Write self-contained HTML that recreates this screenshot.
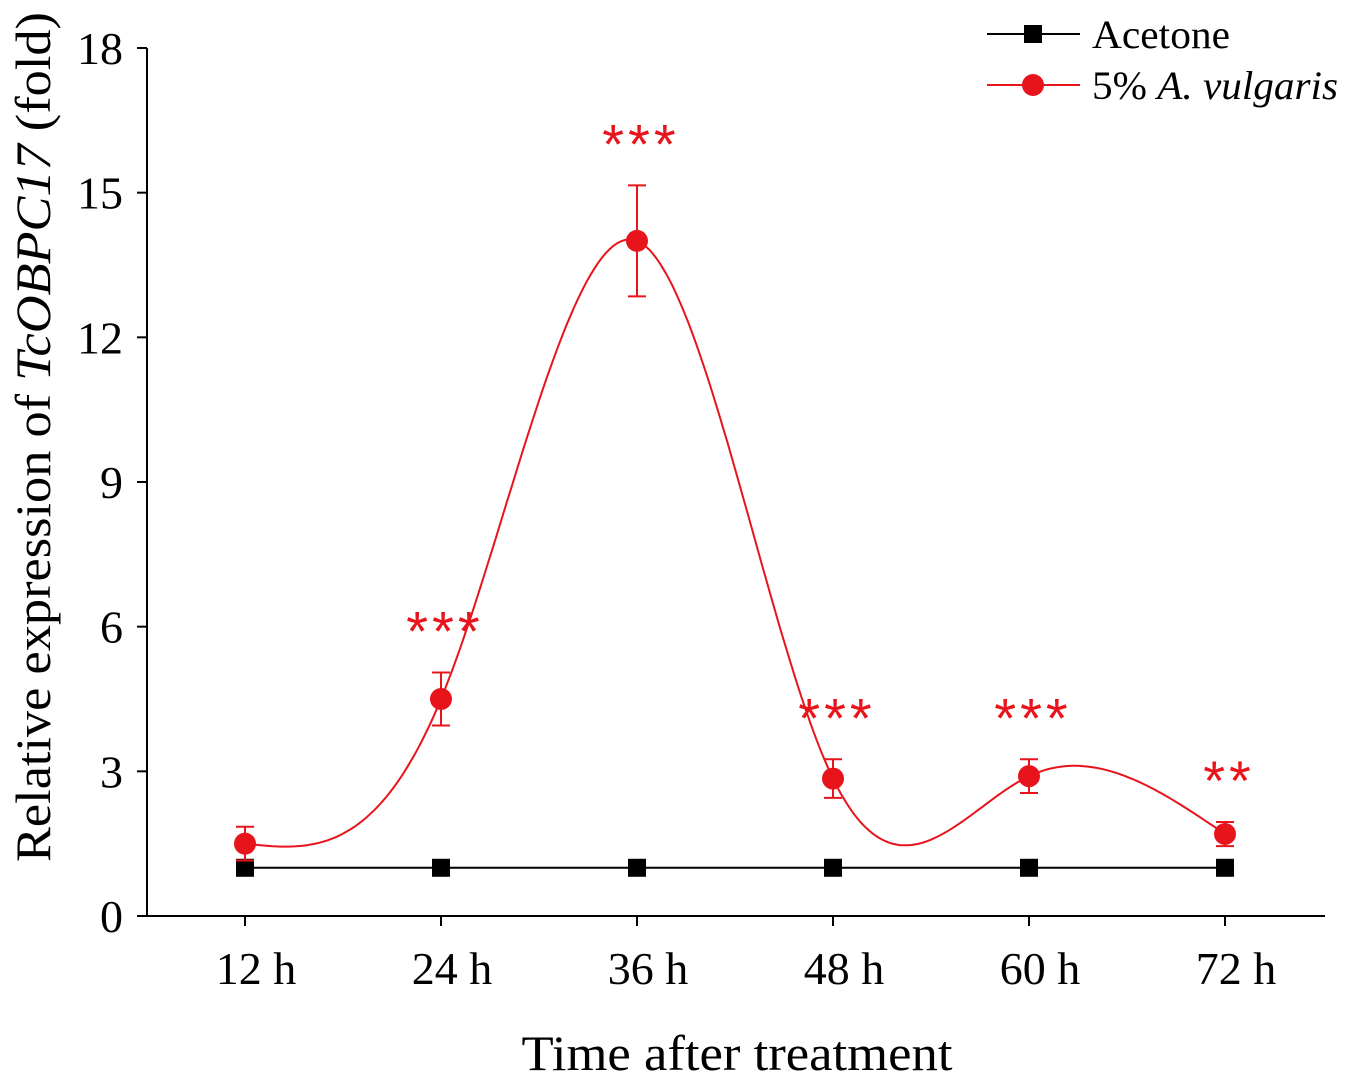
<!DOCTYPE html>
<html><head><meta charset="utf-8"><style>
html,body{margin:0;padding:0;background:#fff;}
svg{display:block;font-family:"Liberation Serif",serif;}
</style></head><body>
<svg id="chart" width="1346" height="1080">
<g id="axes"></g><g id="series"></g>
<g>
 <line x1="987" y1="34" x2="1080" y2="34" stroke="#000" stroke-width="2"/>
 <rect x="1024" y="25" width="18" height="18" fill="#000"/>
 <text x="1092" y="48" font-size="40" textLength="138" lengthAdjust="spacingAndGlyphs">Acetone</text>
 <line x1="987" y1="85" x2="1080" y2="85" stroke="#e8141c" stroke-width="2"/>
 <circle cx="1033" cy="85" r="11" fill="#e8141c"/>
 <text x="1092" y="99" font-size="40" textLength="246" lengthAdjust="spacingAndGlyphs">5% <tspan font-style="italic">A. vulgaris</tspan></text>
</g>
<text transform="translate(50,437) rotate(-90)" text-anchor="middle" font-size="50" textLength="850" lengthAdjust="spacingAndGlyphs">Relative expression of <tspan font-style="italic">TcOBPC17</tspan> (fold)</text>
<text x="737" y="1070" text-anchor="middle" font-size="50" textLength="431" lengthAdjust="spacingAndGlyphs">Time after treatment</text>
</svg>
<script>
const categories=["12 h","24 h","36 h","48 h","60 h","72 h"];
const acetone=[1,1,1,1,1,1];
const vulgaris=[1.5,4.5,14.0,2.85,2.9,1.7];
const vulgarisErr=[0.35,0.55,1.15,0.4,0.35,0.25];
const stars=["","***","***","***","***","**"];
const yTicks=[0,3,6,9,12,15,18];
const NS="http://www.w3.org/2000/svg";
const x0=147,x1=1325,yBase=916,yTop=48,yMax=18;
const xs=i=>245+i*196;
const ys=v=>yBase-(yBase-yTop)*v/yMax;
function mk(t,a,p){const e=document.createElementNS(NS,t);for(const k in a)e.setAttribute(k,a[k]);p.appendChild(e);return e;}
const ax=document.getElementById('axes'),sr=document.getElementById('series');
let e=mk('line',{x1:x0,y1:yBase,x2:x1,y2:yBase,stroke:'#000','stroke-width':2},ax);


e=mk('line',{x1:x0,y1:yTop,x2:x0,y2:yBase,stroke:'#000','stroke-width':2},ax);


yTicks.forEach(v=>{
 mk('line',{x1:x0-10,y1:ys(v),x2:x0,y2:ys(v),stroke:'#000','stroke-width':2},ax);
 const t=mk('text',{x:123,y:ys(v)+16,'text-anchor':'end','font-size':46},ax);t.textContent=v;
 
 
});
categories.forEach((c,i)=>{
 mk('line',{x1:xs(i),y1:yBase,x2:xs(i),y2:yBase+10,stroke:'#000','stroke-width':2},ax);
 const t=mk('text',{x:xs(i)+11,y:984,'text-anchor':'middle','font-size':46},ax);t.textContent=c;
 
 
});
function spline(X,Y){const n=X.length,h=[],al=[0],l=[1],mu=[0],z=[0],c=new Array(n).fill(0),b=[],d=[];
 for(let i=0;i<n-1;i++)h.push(X[i+1]-X[i]);
 for(let i=1;i<n-1;i++)al.push(3/h[i]*(Y[i+1]-Y[i])-3/h[i-1]*(Y[i]-Y[i-1]));
 for(let i=1;i<n-1;i++){l[i]=2*(X[i+1]-X[i-1])-h[i-1]*mu[i-1];mu[i]=h[i]/l[i];z[i]=(al[i]-h[i-1]*z[i-1])/l[i];}
 z[n-1]=0;for(let j=n-2;j>=0;j--){c[j]=z[j]-mu[j]*c[j+1];b[j]=(Y[j+1]-Y[j])/h[j]-h[j]*(c[j+1]+2*c[j])/3;d[j]=(c[j+1]-c[j])/(3*h[j]);}
 return x=>{let j=Math.min(n-2,Math.max(0,X.findIndex((v,k)=>k<n-1&&x<=X[k+1])));const dx=x-X[j];return Y[j]+b[j]*dx+c[j]*dx*dx+d[j]*dx*dx*dx;};}
const idx=categories.map((c,i)=>i);
const f=spline(idx,vulgaris);
let dstr='';for(let t=0;t<=5.0001;t+=0.02){dstr+=(t?'L':'M')+xs(t).toFixed(1)+','+ys(f(t)).toFixed(1);}
e=mk('path',{d:dstr,fill:'none',stroke:'#e8141c','stroke-width':2},sr);


e=mk('line',{x1:xs(0),y1:ys(acetone[0]),x2:xs(5),y2:ys(acetone[5]),stroke:'#000','stroke-width':2},sr);


acetone.forEach((v,i)=>{const r=mk('rect',{x:xs(i)-9,y:ys(v)-9,width:18,height:18,fill:'#000'},sr);
 
 });
vulgaris.forEach((v,i)=>{const x=xs(i),hi=ys(v+vulgarisErr[i]),lo=ys(v-vulgarisErr[i]);
 const g=mk('g',{stroke:'#e8141c','stroke-width':2},sr);
 
 
 mk('line',{x1:x,y1:hi,x2:x,y2:lo},g);mk('line',{x1:x-9,y1:hi,x2:x+9,y2:hi},g);mk('line',{x1:x-9,y1:lo,x2:x+9,y2:lo},g);
 const c=mk('circle',{cx:x,cy:ys(v),r:11,fill:'#e8141c'},sr);
 
 
 if(stars[i]){const t=mk('text',{x:x+4,y:hi-22,'text-anchor':'middle','font-size':56,fill:'#e8141c','font-family':'Liberation Sans, sans-serif','letter-spacing':4},sr);t.textContent=stars[i];
 
 }
});
</script>
</body></html>
